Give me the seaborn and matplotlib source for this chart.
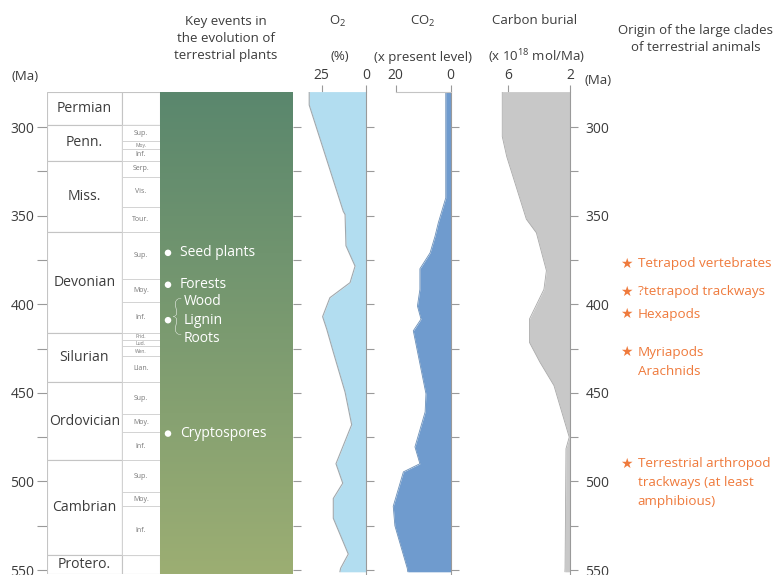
import numpy as np
import matplotlib
matplotlib.use("Agg")
import matplotlib.pyplot as plt
import seaborn as sns
from matplotlib.colors import LinearSegmentedColormap

# ---------------- data ----------------
periods = ["Permian", "Penn.", "Miss.", "Devonian", "Silurian", "Ordovician", "Cambrian", "Protero."]
period_start = [280, 299, 319, 359.5, 416.5, 444, 488, 541.7]
period_end = [299, 319, 359.5, 416.5, 444, 488, 541.7, 552]

sub_labels = ["Sup.", "Moy.", "Inf.", "Serp.", "Vis.", "Tour.", "Sup.", "Moy.", "Inf.",
              "Prid.", "Lud.", "Wen.", "Llan.", "Sup.", "Moy.", "Inf.", "Sup.", "Moy.", "Inf."]
sub_start = [299, 308, 312.4, 319, 328, 345, 359.5, 386, 399,
             416.5, 420, 423.8, 429, 444, 462, 472, 488, 506, 514]
sub_end = [308, 312.4, 319, 328, 345, 359.5, 386, 399, 416.5,
           420, 423.8, 429, 444, 462, 472, 488, 506, 514, 541.7]

plant_events = ["Seed plants", "Forests", "Wood\nLignin\nRoots", "Cryptospores"]
plant_ages = [371, 389, 409, 473]

o2_age = [280, 287.6, 347.6, 349.4, 367, 378.5, 387.8, 396.3, 407, 414, 427,
          449.6, 468, 490, 501, 509.6, 520.8, 541, 549, 551]
o2_pct = [32, 32, 12.9, 11.9, 11.4, 6.3, 9.1, 20.4, 24.5, 22.2, 18.5,
          11.9, 8.2, 17, 13.2, 18.5, 18.5, 10.1, 14.4, 14.8]

co2_age = [280, 340, 354, 361.6, 371, 380, 391.6, 401, 408.4, 415, 450.5,
           460.8, 480.5, 490, 494.6, 514, 525, 549, 551]
co2_val = [1.8, 1.8, 4.5, 5.7, 7.5, 11.2, 11.2, 12.1, 10.8, 13.6, 9.0,
           9.3, 13.0, 11.2, 17.2, 20.9, 20.3, 15.8, 15.6]

burial_age = [280, 305.4, 316.7, 352, 359.7, 381, 391.6, 408.4, 421.5, 432.7,
              445.9, 475, 481.5, 549, 551]
burial_val = [6.39, 6.39, 6.1, 4.83, 4.18, 3.53, 3.69, 4.63, 4.63, 3.95,
              3.04, 2.05, 2.26, 2.32, 2.33]

animal_events = ["Tetrapod vertebrates", "?tetrapod trackways", "Hexapods",
                 "Myriapods\nArachnids",
                 "Terrestrial arthropod\ntrackways (at least\namphibious)"]
animal_ages = [377, 393, 405.6, 427, 490]

age_major = [300, 350, 400, 450, 500, 550]
age_minor = [325, 375, 425, 475, 525]
o2_ticks = [25, 0]
co2_ticks = [20, 0]
burial_ticks = [6, 2]

# ---------------- style ----------------
sns.set_theme(style="white")
plt.rcParams["font.family"] = ["Open Sans", "DejaVu Sans"]
plt.rcParams["mathtext.fontset"] = "custom"
plt.rcParams["mathtext.rm"] = "Open Sans"
plt.rcParams["mathtext.default"] = "regular"

TXT = "#3c3c3c"
GRID = "#c4c4c4"
TICK = "#9a9a9a"
FS = 9.5
ORANGE = "#ef7a3c"
YTOP, YBOT = 280, 552

W, H = 775, 575
fig = plt.figure(figsize=(W / 100, H / 100), dpi=100)
PX_TOP = 91.6
PX_BOT = PX_TOP + (YBOT - YTOP) * 1.772


def add_ax(l, r):
    return fig.add_axes([l / W, 1 - PX_BOT / H, (r - l) / W, (PX_BOT - PX_TOP) / H])


def clean(ax):
    for s in ax.spines.values():
        s.set_visible(False)
    ax.set_ylim(YBOT, YTOP)
    ax.set_facecolor("none")


def right_ticks(ax, labels=False):
    ax.yaxis.set_ticks_position("right")
    ax.set_yticks(age_major)
    ax.set_yticks(age_minor, minor=True)
    ax.tick_params(axis="y", which="both", direction="out", length=6, width=0.8,
                   color=TICK, right=True, left=False, labelright=labels, labelleft=False,
                   labelsize=FS + 0.5, labelcolor=TXT, pad=5)


# ---- stratigraphic column ----
ax_s = add_ax(47, 160)
clean(ax_s)
ax_s.set_xlim(47, 160)
mid = [(a + b) / 2 for a, b in zip(period_start, period_end)]
span = [b - a for a, b in zip(period_start, period_end)]
ax_s.barh(mid, width=75, height=span, left=47, color="white", edgecolor=GRID, linewidth=0.8)
ax_s.barh(mid, width=38, height=span, left=122, color="white", edgecolor=GRID, linewidth=0.8)
smid = [(a + b) / 2 for a, b in zip(sub_start, sub_end)]
sspan = [b - a for a, b in zip(sub_start, sub_end)]
ax_s.barh(smid, width=38, height=sspan, left=122, color="white", edgecolor="#d0d0d0",
          linewidth=0.6)
for name, m in zip(periods, mid):
    ax_s.text(84.5, m, name, ha="center", va="center", fontsize=FS + 0.6, color=TXT)
for lab, m, sp in zip(sub_labels, smid, sspan):
    ax_s.text(141, m, lab, ha="center", va="center", fontsize=3.6 if sp < 6 else 5,
              color="#777777")
ax_s.yaxis.set_ticks_position("left")
ax_s.set_yticks(age_major)
ax_s.set_yticks(age_minor, minor=True)
ax_s.tick_params(axis="y", which="both", direction="out", length=7, width=0.8,
                 color=TICK, left=True, labelsize=FS + 0.5, labelcolor=TXT, pad=2)
ax_s.set_xticks([])
ax_s.set_ylim(YBOT, YTOP)

# ---- plant column ----
ax_g = add_ax(160, 293)
cmap = LinearSegmentedColormap.from_list("plants", ["#5a876d", "#9cae73"])
ax_g.imshow(np.linspace(0, 1, 256).reshape(-1, 1), cmap=cmap, aspect="auto",
            extent=(160, 293, YBOT, YTOP), origin="upper")
clean(ax_g)
ax_g.set_xlim(160, 293)
sns.scatterplot(x=[168] * len(plant_ages), y=plant_ages, ax=ax_g, color="white",
                s=22, edgecolor="none", legend=False)
gap = 10.4
for lab, age in zip(plant_events, plant_ages):
    lines = lab.split("\n")
    n = len(lines)
    x0 = 180
    if n > 1:
        ax_g.text(176.5, age - 0.6, "{", ha="center", va="center", fontsize=30,
                  color="white", fontweight="light", family=["Lato", "Open Sans"])
        x0 = 184
    for i, line in enumerate(lines):
        ax_g.text(x0, age + (i - (n - 1) / 2) * gap, line, ha="left", va="center",
                  fontsize=FS + 0.5, color="white")
right_ticks(ax_g)
ax_g.set_xticks([])
ax_g.set_ylim(YBOT, YTOP)

# ---- O2 ----
o2_right, o2_scale = 366.3, 1.784
ax_o = add_ax(303, o2_right)
clean(ax_o)
ax_o.fill_betweenx(o2_age, 0, o2_pct, color="#b2ddf0", linewidth=0)
sns.lineplot(x=o2_pct, y=o2_age, orient="y", sort=False, estimator=None, ax=ax_o,
             color="#a0a8ad", linewidth=0.8)
ax_o.set_xlim((o2_right - 303) / o2_scale, 0)
ax_o.spines["right"].set_visible(True)
ax_o.spines["right"].set_color(TICK)
ax_o.spines["right"].set_linewidth(0.8)
right_ticks(ax_o)
ax_o.xaxis.set_ticks_position("top")
ax_o.set_xticks(o2_ticks)
ax_o.tick_params(axis="x", direction="out", length=5, width=0.8, color=TICK,
                 labelsize=FS + 0.5, labelcolor=TXT, pad=1, top=True, bottom=False)
ax_o.set_xlabel("")
ax_o.set_ylabel("")
ax_o.set_ylim(YBOT, YTOP)

# ---- CO2 ----
co2_right, co2_scale = 450.7, 2.75
ax_c = add_ax(390, co2_right)
clean(ax_c)
ax_c.fill_betweenx(co2_age, 0, co2_val, color="#6f9bce", linewidth=0)
sns.lineplot(x=co2_val, y=co2_age, orient="y", sort=False, estimator=None, ax=ax_c,
             color="#6a8fb8", linewidth=0.6)
ax_c.set_xlim((co2_right - 390) / co2_scale, 0)
ax_c.spines["right"].set_visible(True)
ax_c.spines["right"].set_color(TICK)
ax_c.spines["right"].set_linewidth(0.8)
ax_c.spines["top"].set_visible(True)
ax_c.spines["top"].set_color(GRID)
ax_c.spines["top"].set_linewidth(0.8)
ax_c.spines["top"].set_bounds(0, 20)
right_ticks(ax_c)
ax_c.xaxis.set_ticks_position("top")
ax_c.set_xticks(co2_ticks)
ax_c.tick_params(axis="x", direction="out", length=5, width=0.8, color=TICK,
                 labelsize=FS + 0.5, labelcolor=TXT, pad=1, top=True, bottom=False)
ax_c.set_xlabel("")
ax_c.set_ylabel("")
ax_c.set_ylim(YBOT, YTOP)

# ---- Carbon burial ----
b_right, b_scale = 570, 15.43
ax_b = add_ax(497, b_right)
clean(ax_b)
ax_b.fill_betweenx(burial_age, 2, burial_val, color="#c8c8c8", linewidth=0)
sns.lineplot(x=burial_val, y=burial_age, orient="y", sort=False, estimator=None, ax=ax_b,
             color="#a8a8a8", linewidth=0.6)
ax_b.set_xlim(2 + (b_right - 497) / b_scale, 2)
ax_b.spines["right"].set_visible(True)
ax_b.spines["right"].set_color(TICK)
ax_b.spines["right"].set_linewidth(0.8)
right_ticks(ax_b, labels=True)
ax_b.xaxis.set_ticks_position("top")
ax_b.set_xticks(burial_ticks)
ax_b.tick_params(axis="x", direction="out", length=5, width=0.8, color=TICK,
                 labelsize=FS + 0.5, labelcolor=TXT, pad=1, top=True, bottom=False)
ax_b.set_xlabel("")
ax_b.set_ylabel("")
ax_b.set_ylim(YBOT, YTOP)

# ---- animal clades ----
ax_a = add_ax(610, 775)
clean(ax_a)
ax_a.set_xlim(610, 775)
ax_a.set_xticks([])
ax_a.set_yticks([])
agap = 10.7
for lab, age in zip(animal_events, animal_ages):
    ax_a.text(626, age, "★", ha="center", va="center", fontsize=FS + 0.5, color=ORANGE,
              family=["DejaVu Sans"])
    for i, line in enumerate(lab.split("\n")):
        ax_a.text(637.5, age + i * agap, line, ha="left", va="center", fontsize=FS + 0.2,
                  color=ORANGE)
ax_a.set_ylim(YBOT, YTOP)


# ---- headers ----
def ftext(x, y, s, **kw):
    fig.text(x / W, 1 - y / H, s, ha="center", va="center", fontsize=FS, color=TXT, **kw)


ftext(226, 38.5, "Key events in\nthe evolution of\nterrestrial plants", linespacing=1.4)
ftext(338, 21, "O$_2$")
ftext(340, 57, "(%)")
ftext(423, 21, "CO$_2$")
ftext(423, 57, "(x present level)")
ftext(535, 21, "Carbon burial")
ftext(537, 57, "(x 10$^{18}$ mol/Ma)")
ftext(696, 39, "Origin of the large clades\nof terrestrial animals", linespacing=1.4)
ftext(25, 76, "(Ma)")
ftext(598, 80, "(Ma)")

fig.savefig("out.png", dpi=100)
